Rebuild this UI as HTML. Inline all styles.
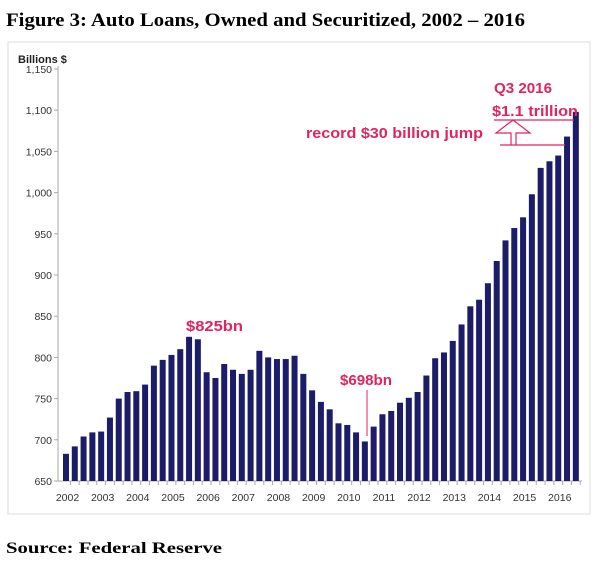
<!DOCTYPE html>
<html><head><meta charset="utf-8"><style>
body{margin:0;width:600px;height:567px;background:#fff;overflow:hidden}
</style></head><body>
<svg width="600" height="567" xmlns="http://www.w3.org/2000/svg">
<text x="6" y="26" font-family="Liberation Serif" font-weight="bold" font-size="19" textLength="519" lengthAdjust="spacingAndGlyphs" fill="#000">Figure 3: Auto Loans, Owned and Securitized, 2002 – 2016</text>
<rect x="8" y="42" width="582" height="472" fill="none" stroke="#ddd"/>
<text x="18" y="63" font-family="Liberation Sans" font-weight="bold" font-size="11" fill="#222">Billions $</text>
<g id="yaxis"></g>
<g id="bars"></g>
<g id="xaxis"></g>
<g font-family="Liberation Sans" font-weight="bold" fill="#e0245e" font-size="14.5">
<text x="186" y="331" textLength="57" lengthAdjust="spacingAndGlyphs">$825bn</text>
<text x="340" y="385" textLength="52" lengthAdjust="spacingAndGlyphs">$698bn</text>
<line x1="367" y1="390" x2="367" y2="436" stroke="#e0245e" stroke-width="1"/>
<text x="494" y="93" textLength="58" lengthAdjust="spacingAndGlyphs">Q3 2016</text>
<text x="492" y="116" textLength="86" lengthAdjust="spacingAndGlyphs">$1.1 trillion</text>
<text x="306" y="138" textLength="177" lengthAdjust="spacingAndGlyphs">record $30 billion jump</text>
</g>
<g stroke="#e0245e" fill="none" stroke-width="1.2">
<line x1="494" y1="120" x2="574" y2="120"/>
<line x1="500" y1="145" x2="565" y2="145"/>
<polyline points="511,145 511,133 496,133 513,120 530,133 516,133 516,145"/>
</g>
<text x="6" y="553" font-family="Liberation Serif" font-weight="bold" font-size="16" textLength="216" lengthAdjust="spacingAndGlyphs" fill="#000">Source: Federal Reserve</text>
</svg>
<script>
const values=[683,692,704,709,710,727,750,758,759,767,790,797,803,810,825,822,782,775,792,785,780,785,808,800,798,798,802,780,760,746,737,720,718,709,698,716,731,735,745,751,758,778,799,806,820,840,862,870,890,917,942,957,970,998,1030,1038,1045,1068,1098];
const yTicks=[650,700,750,800,850,900,950,1000,1050,1100,1150];
const yearLabels=["2002","2003","2004","2005","2006","2007","2008","2009","2010","2011","2012","2013","2014","2015","2016"];
const NS="http://www.w3.org/2000/svg";
const y=v=>481-(v-650)*(412/500);
const x=i=>66+i*8.79;
function mk(t,a,p){const e=document.createElementNS(NS,t);for(const k in a)e.setAttribute(k,a[k]);p.appendChild(e);return e;}
const ya=document.getElementById('yaxis');
mk('line',{x1:58,y1:66,x2:58,y2:481,stroke:'#aaa'},ya);
mk('line',{x1:58,y1:481,x2:582,y2:481,stroke:'#aaa'},ya);
yTicks.forEach(v=>{
 mk('line',{x1:54,y1:y(v),x2:58,y2:y(v),stroke:'#aaa'},ya);
 const t=mk('text',{x:52,y:y(v)+4,'text-anchor':'end','font-family':'Liberation Sans','font-size':'10.5',fill:'#333'},ya);
 t.textContent=v.toLocaleString('en-US');
 
 
});
const bg=document.getElementById('bars');
values.forEach((v,i)=>{
 const r=mk('rect',{x:x(i)-3,y:y(v),width:6,height:481-y(v),fill:'#1c1c68'},bg);
 
 
});
const xa=document.getElementById('xaxis');
yearLabels.forEach((l,k)=>{
 const t=mk('text',{x:x(k*4)+1.5,y:501,'text-anchor':'middle','font-family':'Liberation Sans','font-size':'10.5',fill:'#333'},xa);
 t.textContent=l;
 
 
});
values.forEach((v,i)=>{mk('line',{x1:x(i)+4.4,y1:481,x2:x(i)+4.4,y2:485,stroke:'#aaa'},xa);});
</script>
</body></html>
